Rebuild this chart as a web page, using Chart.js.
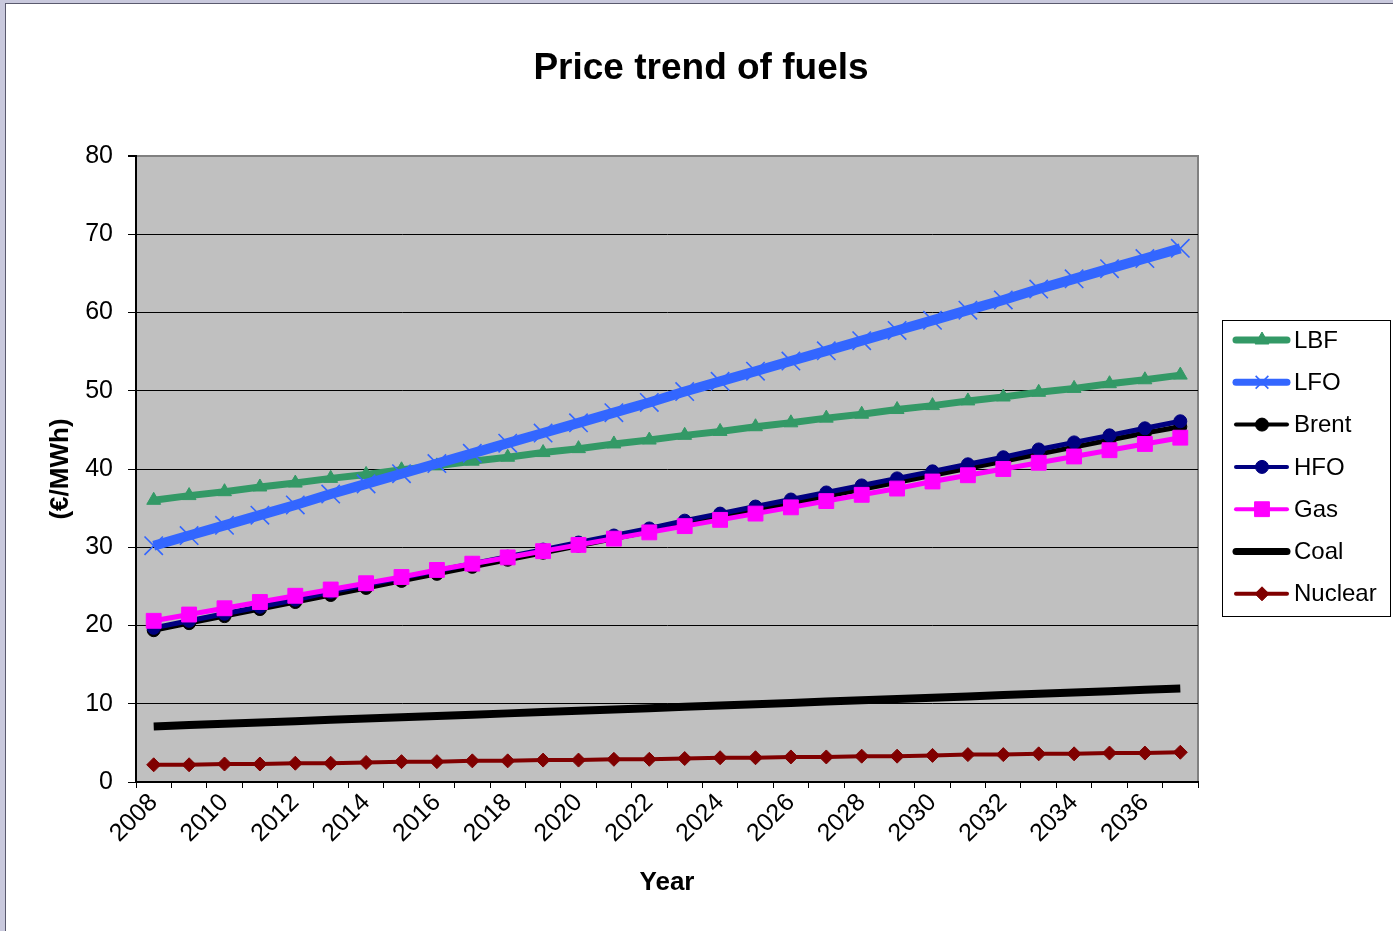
<!DOCTYPE html>
<html>
<head>
<meta charset="utf-8">
<title>Price trend of fuels</title>
<script src="https://cdn.jsdelivr.net/npm/chart.js@4/dist/chart.umd.min.js"></script>
<style>
  html, body { margin: 0; padding: 0; }
  body { width: 1393px; height: 931px; background: #c9c9dd; position: relative; overflow: hidden; }
  #sheet { position: absolute; left: 5px; top: 3px; right: 0; bottom: 0; background: #fff;
           border-left: 1px solid #5a5a6e; border-top: 1px solid #5a5a6e; }
  #chart { position: absolute; left: 0; top: 0; }
</style>
</head>
<body>
<div id="sheet"></div>
<canvas id="chart" width="1393" height="931"></canvas>
<script>
// Years on the category axis
const years = [2008, 2009, 2010, 2011, 2012, 2013, 2014, 2015, 2016, 2017,
               2018, 2019, 2020, 2021, 2022, 2023, 2024, 2025, 2026, 2027,
               2028, 2029, 2030, 2031, 2032, 2033, 2034, 2035, 2036, 2037];
// Years that carry a printed label
const labelledYears = [2008, 2010, 2012, 2014, 2016, 2018, 2020, 2022,
                       2024, 2026, 2028, 2030, 2032, 2034, 2036];
// Value axis ticks (€/MWh)
const valueTicks = [0, 10, 20, 30, 40, 50, 60, 70, 80];

// Fuel prices, €/MWh
const lbf = [36.0, 36.6, 37.1, 37.7, 38.2, 38.8, 39.3, 39.9, 40.4, 41.0,
             41.5, 42.1, 42.6, 43.2, 43.7, 44.3, 44.8, 45.4, 45.9, 46.5,
             47.0, 47.6, 48.1, 48.7, 49.2, 49.8, 50.3, 50.9, 51.4, 52.0];
const lfo = [30.2, 31.5, 32.8, 34.1, 35.4, 36.8, 38.1, 39.4, 40.7, 42.0,
             43.3, 44.6, 45.9, 47.2, 48.5, 49.9, 51.2, 52.5, 53.8, 55.1,
             56.4, 57.7, 59.0, 60.3, 61.6, 63.0, 64.3, 65.6, 66.9, 68.2];
const brent = [19.4, 20.3, 21.2, 22.1, 23.0, 23.9, 24.8, 25.7, 26.6, 27.5,
               28.4, 29.3, 30.2, 31.1, 32.0, 32.9, 33.8, 34.7, 35.6, 36.5,
               37.4, 38.3, 39.2, 40.1, 41.0, 41.9, 42.8, 43.7, 44.6, 45.4];
const hfo = [19.7, 20.6, 21.5, 22.4, 23.3, 24.3, 25.2, 26.1, 27.0, 27.9,
             28.8, 29.7, 30.6, 31.5, 32.4, 33.4, 34.3, 35.2, 36.1, 37.0,
             37.9, 38.8, 39.7, 40.6, 41.5, 42.5, 43.4, 44.3, 45.2, 46.1];
const gas = [20.6, 21.4, 22.2, 23.0, 23.8, 24.6, 25.4, 26.2, 27.1, 27.9,
             28.7, 29.5, 30.3, 31.1, 31.9, 32.7, 33.5, 34.3, 35.1, 35.9,
             36.7, 37.5, 38.4, 39.2, 40.0, 40.8, 41.6, 42.4, 43.2, 44.0];
const coal = [7.10, 7.27, 7.43, 7.60, 7.77, 7.94, 8.10, 8.27, 8.44, 8.60,
              8.77, 8.94, 9.11, 9.27, 9.44, 9.61, 9.77, 9.94, 10.11, 10.28,
              10.44, 10.61, 10.78, 10.94, 11.11, 11.28, 11.45, 11.61, 11.78, 11.95];
const nuclear = [2.2, 2.2, 2.3, 2.3, 2.4, 2.4, 2.5, 2.6, 2.6, 2.7,
                 2.7, 2.8, 2.8, 2.9, 2.9, 3.0, 3.1, 3.1, 3.2, 3.2,
                 3.3, 3.3, 3.4, 3.5, 3.5, 3.6, 3.6, 3.7, 3.7, 3.8];

const FONT = '"Liberation Sans", Arial, Helvetica, sans-serif';

function series(label, data, color, lineWidth, pointStyle, radius, legendLine, pointBorder) {
  return {
    label, data,
    borderColor: color,
    backgroundColor: color,
    pointBackgroundColor: color,
    pointBorderColor: color,
    borderWidth: lineWidth,
    pointStyle: pointStyle || 'circle',
    pointRadius: pointStyle ? radius : 0,
    pointHoverRadius: pointStyle ? radius : 0,
    pointBorderWidth: pointBorder || 1,
    tension: 0,
    fill: false,
    legendLine
  };
}

const datasets = [
  series('LBF', lbf, '#339966', 7, 'triangle', 8, 7),
  series('LFO', lfo, '#3366ff', 10, 'crossRot', 13, 7, 1.6),
  series('Brent', brent, '#000000', 5, 'circle', 6.5, 4),
  series('HFO', hfo, '#000080', 5, 'circle', 6.5, 4),
  series('Gas', gas, '#ff00ff', 5, 'rect', 10.5, 4),
  series('Coal', coal, '#000000', 8, null, 0, 7),
  series('Nuclear', nuclear, '#800000', 4, 'rectRot', 7, 4)
];
// later series sit on top of earlier ones
datasets.forEach((d, i) => { d.order = datasets.length - i; });

// grey plot area with its grey top and right edges
const plotBackground = {
  id: 'plotBackground',
  beforeDraw(chart) {
    const { ctx, chartArea: a } = chart;
    ctx.save();
    ctx.fillStyle = '#c0c0c0';
    ctx.fillRect(a.left, a.top, a.right - a.left, a.bottom - a.top);
    ctx.strokeStyle = '#808080';
    ctx.lineWidth = 2;
    ctx.beginPath();
    ctx.moveTo(a.left, a.top);
    ctx.lineTo(a.right, a.top);
    ctx.lineTo(a.right, a.bottom);
    ctx.stroke();
    ctx.restore();
  }
};

// boxed legend on the right: line sample, marker, name
const boxedLegend = {
  id: 'boxedLegend',
  afterDraw(chart) {
    const { ctx } = chart;
    const box = { x: 1222.5, y: 320.5, w: 168, h: 296 };
    const rowTop = 340, rowStep = 42.3;
    ctx.save();
    ctx.fillStyle = '#ffffff';
    ctx.fillRect(box.x, box.y, box.w, box.h);
    ctx.strokeStyle = '#000';
    ctx.lineWidth = 1;
    ctx.strokeRect(box.x, box.y, box.w, box.h);
    chart.data.datasets.forEach((ds, i) => {
      const y = rowTop + i * rowStep;
      ctx.strokeStyle = ds.borderColor;
      ctx.lineWidth = ds.legendLine;
      ctx.lineCap = 'round';
      ctx.beginPath();
      ctx.moveTo(1236, y);
      ctx.lineTo(1287, y);
      ctx.stroke();
      if (ds.pointRadius > 0) {
        ctx.fillStyle = ds.pointBackgroundColor;
        ctx.strokeStyle = ds.pointBorderColor;
        ctx.lineWidth = ds.pointBorderWidth;
        ctx.lineCap = 'butt';
        Chart.helpers.drawPoint(ctx, {
          pointStyle: ds.pointStyle,
          radius: ds.pointStyle === 'crossRot' ? 9 : ds.pointRadius,
          rotation: 0,
          borderWidth: ds.pointBorderWidth
        }, 1262, y);
      }
      ctx.fillStyle = '#000';
      ctx.font = '24px ' + FONT;
      ctx.textAlign = 'left';
      ctx.textBaseline = 'middle';
      ctx.fillText(ds.label, 1294, y + 1);
    });
    ctx.restore();
  }
};

new Chart(document.getElementById('chart'), {
  type: 'line',
  data: { labels: years.map(String), datasets },
  plugins: [plotBackground, boxedLegend],
  options: {
    responsive: false,
    animation: false,
    events: [],
    layout: { padding: { left: 9, right: 0, top: 0, bottom: 0 } },
    plugins: {
      legend: { display: false },
      tooltip: { enabled: false },
      title: {
        display: true,
        text: 'Price trend of fuels',
        color: '#000',
        font: { family: FONT, size: 37, weight: 'bold', lineHeight: 1.2 },
        padding: { top: 47, bottom: 64.6 }
      }
    },
    scales: {
      x: {
        type: 'category',
        offset: true,
        grid: {
          display: true, drawOnChartArea: false, drawTicks: true,
          tickLength: 6, tickColor: '#000', offset: true, lineWidth: 1
        },
        border: { display: true, color: '#000', width: 2 },
        ticks: {
          autoSkip: false, maxRotation: 45, minRotation: 45, padding: 0,
          color: '#000',
          font: { family: FONT, size: 25 },
          callback: (v, i) => labelledYears.includes(years[i]) ? String(years[i]) : ''
        },
        title: {
          display: true, text: 'Year', color: '#000',
          font: { family: FONT, size: 26, weight: 'bold', lineHeight: 1.2 },
          padding: { top: 0, bottom: 33 }
        },
        afterFit: s => { s.height = 149; }
      },
      y: {
        type: 'linear',
        min: valueTicks[0],
        max: valueTicks[valueTicks.length - 1],
        afterBuildTicks: s => { s.ticks = valueTicks.map(v => ({ value: v })); },
        grid: {
          color: c => (c.tick && c.tick.value === 80) ? '#808080' : '#000',
          lineWidth: c => (c.tick && c.tick.value === 80) ? 2 : 1,
          tickColor: '#000', tickLength: 8, drawTicks: true
        },
        border: { display: true, color: '#000', width: 2 },
        ticks: {
          padding: 15, color: '#000',
          font: { family: FONT, size: 25 }
        },
        title: {
          display: true, text: '(€/MWh)', color: '#000',
          font: { family: FONT, size: 26, weight: 'bold', lineHeight: 1.2 },
          padding: { top: 36, bottom: 0 }
        },
        afterFit: s => { s.width = 127; }
      },
      legendSpace: {
        type: 'linear',
        position: 'right',
        display: true,
        grid: { display: false, drawOnChartArea: false },
        border: { display: false },
        ticks: { display: false },
        afterFit: s => { s.width = 195; }
      }
    }
  }
});
</script>
</body>
</html>
